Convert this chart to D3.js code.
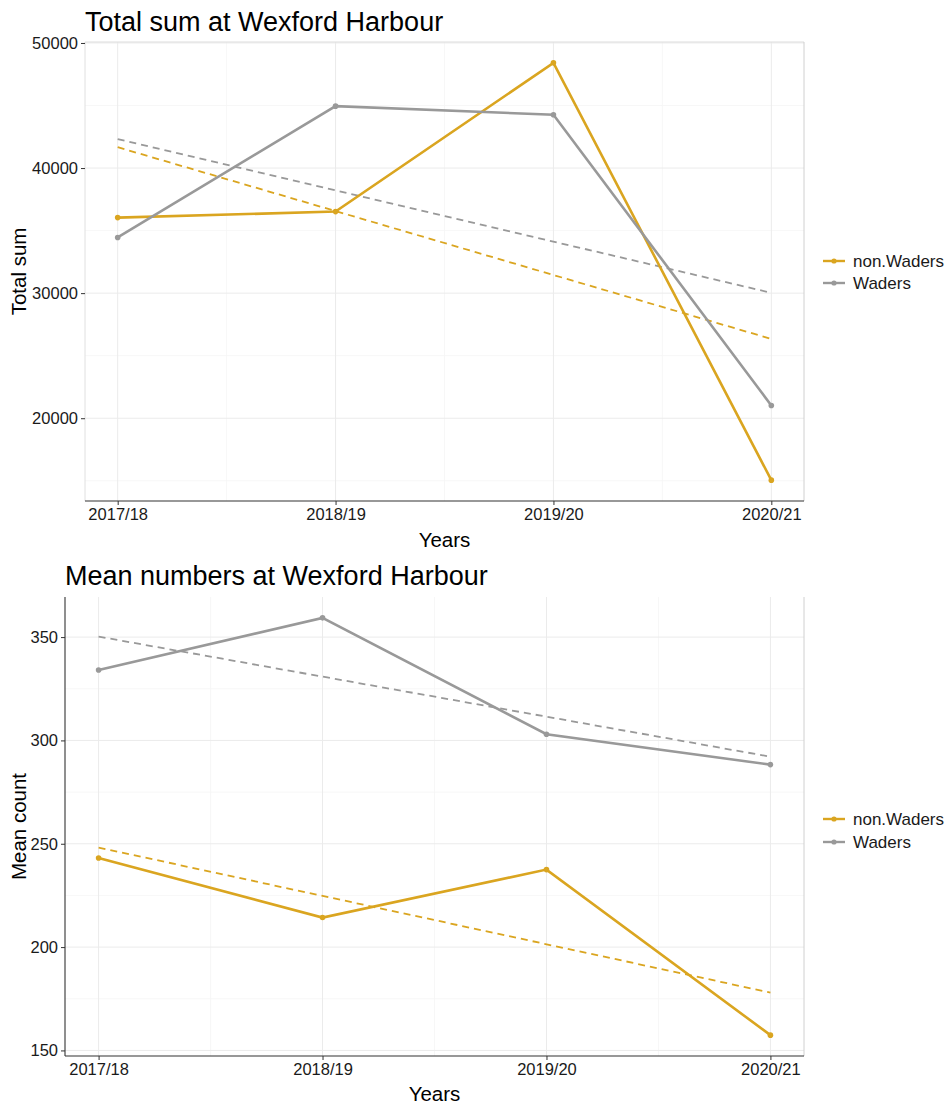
<!DOCTYPE html>
<html>
<head>
<meta charset="utf-8">
<script src="https://cdn.jsdelivr.net/npm/d3@7"></script>
<style>
  body { margin: 0; background: #fff; }
  text { font-family: "Liberation Sans", Arial, sans-serif; }
</style>
</head>
<body>
<svg id="drawing_region"></svg>
<script>
// data
const years = ["2017/18", "2018/19", "2019/20", "2020/21"];
const seriesNames = ["non.Waders", "Waders"];
const totalNonWaders = [36040, 36520, 48410, 15050];
const totalWaders = [34450, 44950, 44260, 21020];
const meanNonWaders = [243.1, 214.3, 237.5, 157.4];
const meanWaders = [334.1, 359.3, 303.0, 288.3];
const totalTicks = [20000, 30000, 40000, 50000];
const totalMinorTicks = [15000, 25000, 35000, 45000];
const meanTicks = [150, 200, 250, 300, 350];
const meanMinorTicks = [175, 225, 275, 325];

const colors = { "non.Waders": "#DAA520", "Waders": "#999999" };

const svg = d3.select('#drawing_region')
    .attr('width', 950)
    .attr('height', 1104);

// least squares line over year index, like geom_smooth(method = "lm")
function fitLine(values) {
    const n = values.length;
    const mx = (n - 1) / 2;
    const my = d3.mean(values);
    let sxy = 0, sxx = 0;
    values.forEach((v, i) => { sxy += (i - mx) * (v - my); sxx += (i - mx) * (i - mx); });
    const slope = sxy / sxx;
    return [my - slope * mx, my + slope * (n - 1 - mx)];
}

function drawChart(cfg) {
    const g = svg.append('g');
    const left = cfg.left, right = cfg.right, top = cfg.top, bottom = cfg.bottom;

    const xscale = d3.scalePoint().domain(years).range([left, right]).padding(0.15);
    const step = xscale.step();

    const allVals = cfg.series.flatMap(s => s.values);
    const [mn, mx] = d3.extent(allVals);
    const pad = (mx - mn) * 0.05;
    const yscale = d3.scaleLinear().domain([mn - pad, mx + pad]).range([bottom, top]);

    // grid
    g.selectAll('.minory').data(cfg.minorTicks).enter().append('line')
        .attr('x1', left).attr('x2', right)
        .attr('y1', d => yscale(d)).attr('y2', d => yscale(d))
        .attr('stroke', '#f5f5f5').attr('stroke-width', 0.8);
    g.selectAll('.minorx').data(years.slice(0, -1)).enter().append('line')
        .attr('x1', d => xscale(d) + step / 2).attr('x2', d => xscale(d) + step / 2)
        .attr('y1', top).attr('y2', bottom)
        .attr('stroke', '#f5f5f5').attr('stroke-width', 0.8);
    g.selectAll('.majory').data(cfg.ticks).enter().append('line')
        .attr('x1', left).attr('x2', right)
        .attr('y1', d => yscale(d)).attr('y2', d => yscale(d))
        .attr('stroke', '#ebebeb').attr('stroke-width', 1);
    g.selectAll('.majorx').data(years).enter().append('line')
        .attr('x1', d => xscale(d)).attr('x2', d => xscale(d))
        .attr('y1', top).attr('y2', bottom)
        .attr('stroke', '#ebebeb').attr('stroke-width', 1);

    // panel border
    if (cfg.topBorder) {
        g.append('line').attr('x1', left).attr('x2', right).attr('y1', top).attr('y2', top)
            .attr('stroke', '#dcdcdc').attr('stroke-width', 1);
    }
    g.append('line').attr('x1', right).attr('x2', right).attr('y1', top).attr('y2', bottom)
        .attr('stroke', '#d0d0d0').attr('stroke-width', 1);
    g.append('line').attr('x1', left).attr('x2', left).attr('y1', top).attr('y2', bottom)
        .attr('stroke', cfg.leftAxisLine ? '#333' : '#e0e0e0').attr('stroke-width', cfg.leftAxisLine ? 1.1 : 1);

    // trend lines
    cfg.series.forEach(s => {
        const ends = fitLine(s.values);
        g.append('line')
            .attr('x1', xscale(years[0])).attr('y1', yscale(ends[0]))
            .attr('x2', xscale(years[years.length - 1])).attr('y2', yscale(ends[1]))
            .attr('stroke', colors[s.name]).attr('stroke-width', 1.8)
            .attr('stroke-dasharray', '7,5');
    });

    // data lines and points
    const line = d3.line().x((d, i) => xscale(years[i])).y(d => yscale(d));
    cfg.series.forEach(s => {
        g.append('path').datum(s.values)
            .attr('d', line)
            .attr('fill', 'none')
            .attr('stroke', colors[s.name])
            .attr('stroke-width', 2.6);
        g.selectAll(null).data(s.values).enter().append('circle')
            .attr('cx', (d, i) => xscale(years[i]))
            .attr('cy', d => yscale(d))
            .attr('r', 2.8)
            .attr('fill', colors[s.name]);
    });

    // axes
    const yaxis = d3.axisLeft(yscale).tickValues(cfg.ticks).tickFormat(d3.format('d')).tickSize(4).tickPadding(3);
    const yg = g.append('g').attr('transform', `translate(${left},0)`).call(yaxis);
    yg.select('.domain').remove();
    yg.selectAll('.tick line').attr('stroke', '#333');
    yg.selectAll('.tick text').attr('fill', '#1a1a1a').style('font-size', '16.5px');

    const xaxis = d3.axisBottom(xscale).tickSize(4).tickPadding(3);
    const xg = g.append('g').attr('transform', `translate(0,${bottom})`).call(xaxis);
    xg.select('.domain').attr('d', `M${left},0H${right}`).attr('stroke', '#333').attr('stroke-width', 1.1);
    xg.selectAll('.tick line').attr('stroke', '#333');
    xg.selectAll('.tick text').attr('fill', '#1a1a1a').style('font-size', '16.5px');

    // titles
    g.append('text').attr('x', left).attr('y', cfg.titleY)
        .style('font-size', '27px').attr('fill', '#000').text(cfg.title);
    g.append('text').attr('x', (left + right) / 2).attr('y', cfg.xTitleY)
        .attr('text-anchor', 'middle').style('font-size', '20.5px').attr('fill', '#000').text('Years');
    g.append('text')
        .attr('transform', `translate(26,${(top + bottom) / 2}) rotate(-90)`)
        .attr('text-anchor', 'middle').style('font-size', '20.5px').attr('fill', '#000').text(cfg.yTitle);

    // legend
    cfg.series.forEach((s, i) => {
        const ly = cfg.legendY[i];
        g.append('line').attr('x1', 823).attr('x2', 845).attr('y1', ly).attr('y2', ly)
            .attr('stroke', colors[s.name]).attr('stroke-width', 2.4);
        g.append('circle').attr('cx', 834).attr('cy', ly).attr('r', 2.6).attr('fill', colors[s.name]);
        g.append('text').attr('x', 853).attr('y', ly).attr('dy', '0.35em')
            .style('font-size', '17px').attr('fill', '#1a1a1a').text(s.name);
    });
}

drawChart({
    left: 85, right: 804, top: 42, bottom: 501,
    series: [{ name: seriesNames[0], values: totalNonWaders }, { name: seriesNames[1], values: totalWaders }],
    ticks: totalTicks, minorTicks: totalMinorTicks,
    title: 'Total sum at Wexford Harbour', titleY: 31,
    yTitle: 'Total sum', xTitleY: 547,
    legendY: [261, 283], topBorder: true, leftAxisLine: false
});

drawChart({
    left: 65, right: 804, top: 597, bottom: 1056,
    series: [{ name: seriesNames[0], values: meanNonWaders }, { name: seriesNames[1], values: meanWaders }],
    ticks: meanTicks, minorTicks: meanMinorTicks,
    title: 'Mean numbers at Wexford Harbour', titleY: 585,
    yTitle: 'Mean count', xTitleY: 1101,
    legendY: [819, 842], topBorder: false, leftAxisLine: true
});
</script>
</body>
</html>
